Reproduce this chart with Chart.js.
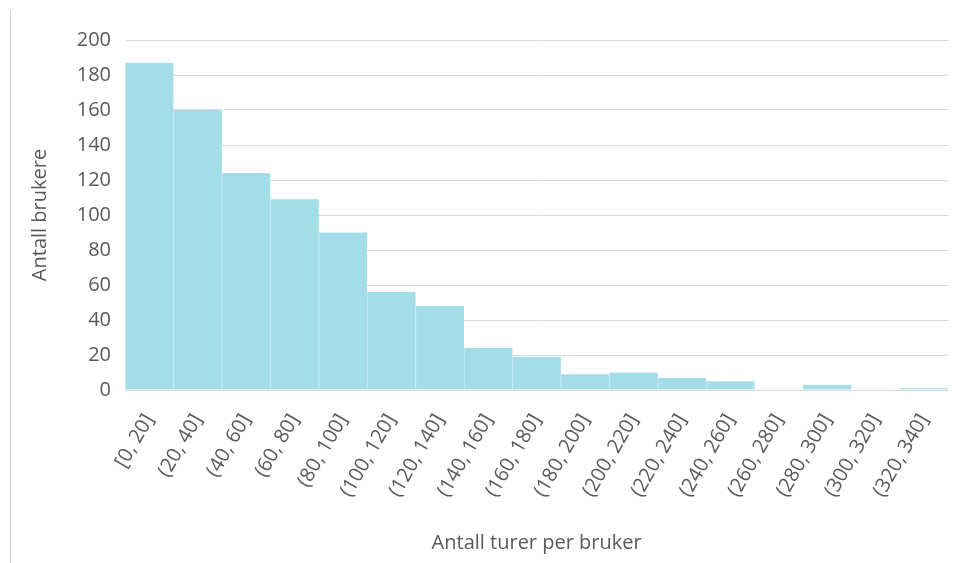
<!DOCTYPE html>
<html>
<head>
<meta charset="utf-8">
<script src="https://cdn.jsdelivr.net/npm/chart.js@4/dist/chart.umd.min.js"></script>
<style>
  html, body { margin: 0; padding: 0; background: #ffffff; }
  #wrap { position: relative; width: 957px; height: 563px; }
  #edge { position: absolute; left: 10px; top: 10px; width: 1px; height: 553px; background: #d0d0d0; }
  canvas { position: absolute; left: 0; top: 0; }
</style>
</head>
<body>
<div id="wrap">
  <div id="edge"></div>
  <canvas id="chart" width="957" height="563"></canvas>
</div>
<script>
// Histogram bins: number of trips per user
const categories = [
  '[0, 20]', '(20, 40]', '(40, 60]', '(60, 80]', '(80, 100]', '(100, 120]',
  '(120, 140]', '(140, 160]', '(160, 180]', '(180, 200]', '(200, 220]',
  '(220, 240]', '(240, 260]', '(260, 280]', '(280, 300]', '(300, 320]', '(320, 340]'
];
// Number of users in each bin
const users = [187, 160, 124, 109, 90, 56, 48, 24, 19, 9, 10, 7, 5, 0, 3, 0, 1];
// Value axis ticks
const yTicks = [0, 20, 40, 60, 80, 100, 120, 140, 160, 180, 200];

const textColor = '#595959';
const fontFamily = '"Open Sans", "Noto Sans", sans-serif';

new Chart(document.getElementById('chart'), {
  type: 'bar',
  data: {
    labels: categories,
    datasets: [{
      data: users,
      backgroundColor: '#a3dde8',
      borderColor: '#c4eaf1',
      borderWidth: { left: 1, right: 0, top: 0, bottom: 0 },
      borderSkipped: false,
      categoryPercentage: 1.0,
      barPercentage: 1.0
    }]
  },
  options: {
    responsive: false,
    animation: false,
    layout: { padding: { left: 10, right: 5, top: 40, bottom: 0 } },
    plugins: { legend: { display: false }, tooltip: { enabled: false } },
    scales: {
      x: {
        grid: { display: false },
        border: { display: false },
        ticks: {
          color: textColor,
          font: { family: fontFamily, size: 20 },
          minRotation: 60,
          maxRotation: 60,
          autoSkip: false,
          padding: 12
        },
        title: {
          display: true,
          text: 'Antall turer per bruker',
          color: textColor,
          font: { family: fontFamily, size: 20 },
          padding: { top: 0, bottom: 8 }
        },
        afterFit: s => { s.height = 173; }
      },
      y: {
        min: 0,
        max: 200,
        afterBuildTicks: s => { s.ticks = yTicks.map(v => ({ value: v })); },
        grid: { color: '#d9d9d9', lineWidth: 1, drawTicks: false },
        border: { display: false },
        ticks: {
          color: textColor,
          font: { family: fontFamily, size: 20 },
          padding: 14
        },
        title: {
          display: true,
          text: 'Antall brukere',
          color: textColor,
          font: { family: fontFamily, size: 20 },
          padding: { top: 18, bottom: 0 }
        },
        afterFit: s => { s.width = 115; }
      }
    }
  }
});
</script>
</body>
</html>
